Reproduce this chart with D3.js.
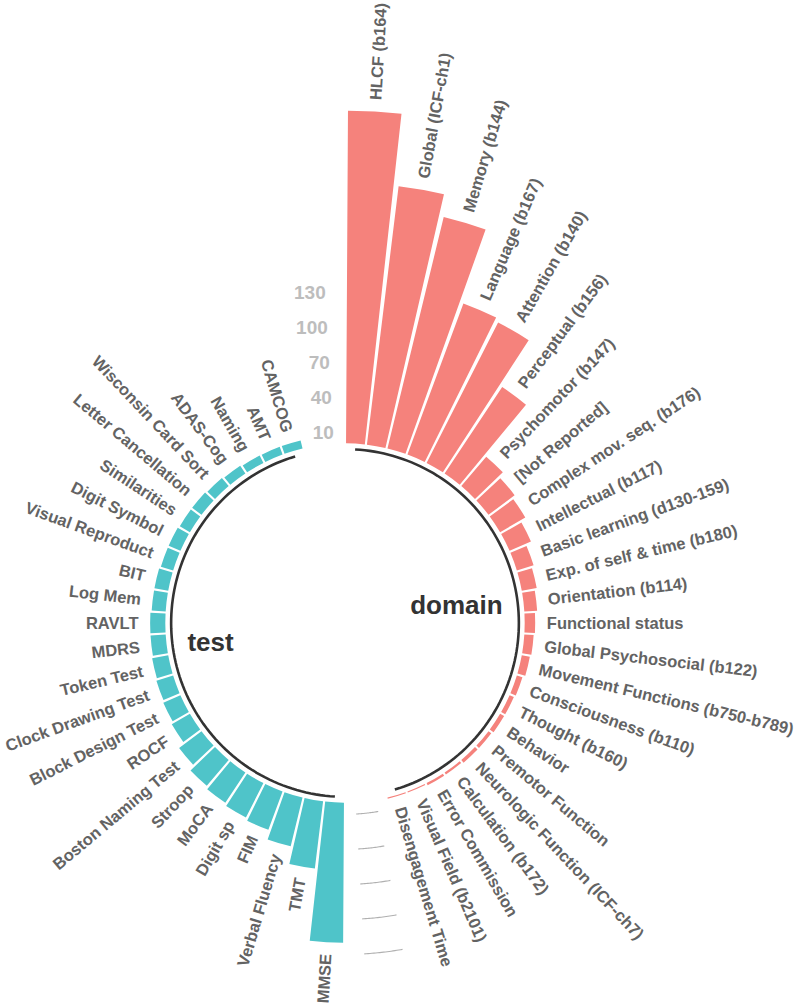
<!DOCTYPE html>
<html><head><meta charset="utf-8">
<script src="https://cdn.jsdelivr.net/npm/d3@7"></script>
<style>body{margin:0;background:#fff} svg{display:block}</style>
</head><body>
<script>
// ---- data ----
const domainNames = ["HLCF (b164)","Global (ICF-ch1)","Memory (b144)","Language (b167)","Attention (b140)","Perceptual (b156)","Psychomotor (b147)","[Not Reported]","Complex mov. seq. (b176)","Intellectual (b117)","Basic learning (d130-159)","Exp. of self & time (b180)","Orientation (b114)","Functional status","Global Psychosocial (b122)","Movement Functions (b750-b789)","Consciousness (b110)","Thought (b160)","Behavior","Premotor Function","Neurologic Function (ICF-ch7)","Calculation (b172)","Error Commission","Visual Field (b2101)","Disengagement Time"];
const domainValues = [285,223,204,138,135,89,33,28,25,20,15,13,11,9,8,7,5,4,4,3,3,2,2,1,1];
const testNames = ["MMSE","TMT","Verbal Fluency","FIM","Digit sp","MoCA","Stroop","Boston Naming Test","ROCF","Block Design Test","Clock Drawing Test","Token Test","MDRS","RAVLT","Log Mem","BIT","Visual Reproduct","Digit Symbol","Similarities","Letter Cancellation","Wisconsin Card Sort","ADAS-Cog","Naming","AMT","CAMCOG"];
const testValues = [120,58,43,35,33,31,29,24,18,16,15,14,13,13,12,12,11,11,10,10,9,8,7,7,7];
const groupNames = ["domain","test"];
const groupColors = ["#f5827c","#4fc4c9"];
const gridValues = [10,40,70,100,130];
const emptyBars = 2;

// ---- build table ----
const groupsData = [
  {name: groupNames[0], names: domainNames, values: domainValues, color: groupColors[0]},
  {name: groupNames[1], names: testNames, values: testValues, color: groupColors[1]}
];
const bars = [];
const base = [];
let id = 0;
groupsData.forEach(g => {
  const start = id + 1;
  g.names.forEach((n, i) => { id++; bars.push({id, label: n, value: g.values[i], color: g.color}); });
  const end = id;
  base.push({group: g.name, start, end, title: (start + end) / 2});
  id += emptyBars;
});
const nPos = id;

const W = 800, H = 1006, cx = 345, cy = 623;
const svg = d3.select("body").append("svg").attr("width", W).attr("height", H);
const g = svg.append("g").attr("transform", `translate(${cx},${cy})`);

const x = d3.scaleLinear().domain([0.5, nPos + 0.5]).range([0, 2 * Math.PI]);
const y = d3.scaleLinear().domain([0, 130]).range([179.7, 331.4]);

const font = "'Liberation Sans', Arial, Helvetica, sans-serif";

// grid segments in gaps (between end of previous group and start of next)
const gridSegs = [];
for (let k = 1; k < base.length; k++) gridSegs.push({a0: base[k - 1].end + 1, a1: base[k].start - 1});
const radial = d3.lineRadial().angle(d => d[0]).radius(d => d[1]);
gridSegs.forEach(s => {
  gridValues.forEach(v => {
    const pts = d3.range(0, 21).map(i => [x(s.a0 + (s.a1 - s.a0) * i / 20), y(v)]);
    g.append("path").attr("d", radial(pts)).attr("fill", "none")
      .attr("stroke", "#b0b0b0").attr("stroke-width", 1.1);
  });
});

// bars
const arc = d3.arc();
g.selectAll("path.bar").data(bars).join("path").attr("class", "bar")
  .attr("d", d => arc({innerRadius: y(0), outerRadius: y(d.value),
    startAngle: x(d.id - 0.45), endAngle: x(d.id + 0.45)}))
  .attr("fill", d => d.color);

// axis labels at last position
gridValues.forEach(v => {
  const a = x(nPos);
  g.append("text").attr("x", y(v) * Math.sin(a)).attr("y", -y(v) * Math.cos(a))
    .attr("dy", "0.35em").attr("text-anchor", "end")
    .attr("font-family", font).attr("font-weight", "bold").attr("font-size", 19)
    .attr("fill", "#bdbdbd").text(v);
});

// bar labels
bars.forEach(d => {
  const a = x(d.id), deg = a * 180 / Math.PI, r = y(d.value + 10);
  const px = r * Math.sin(a), py = -r * Math.cos(a);
  const flip = deg > 180;
  g.append("text")
    .attr("transform", `translate(${px},${py}) rotate(${flip ? deg + 90 : deg - 90})`)
    .attr("dy", "0.35em").attr("text-anchor", flip ? "end" : "start")
    .attr("font-family", font).attr("font-weight", "bold").attr("font-size", 16.5)
    .attr("fill", "#636363").text(d.label);
});

// base lines
base.forEach(b => {
  const pts = d3.range(0, 101).map(i => [x(b.start + (b.end - b.start) * i / 100), y(-5)]);
  g.append("path").attr("d", radial(pts)).attr("fill", "none")
    .attr("stroke", "#333").attr("stroke-width", 2.6);
});

// group titles
base.forEach((b, i) => {
  const a = x(b.title), r = y(-18);
  g.append("text").attr("x", r * Math.sin(a)).attr("y", -r * Math.cos(a))
    .attr("dy", "0.35em").attr("text-anchor", i === 0 ? "end" : "start")
    .attr("font-family", font).attr("font-weight", "bold").attr("font-size", 26)
    .attr("fill", "#333").text(b.group);
});
</script>
</body></html>
